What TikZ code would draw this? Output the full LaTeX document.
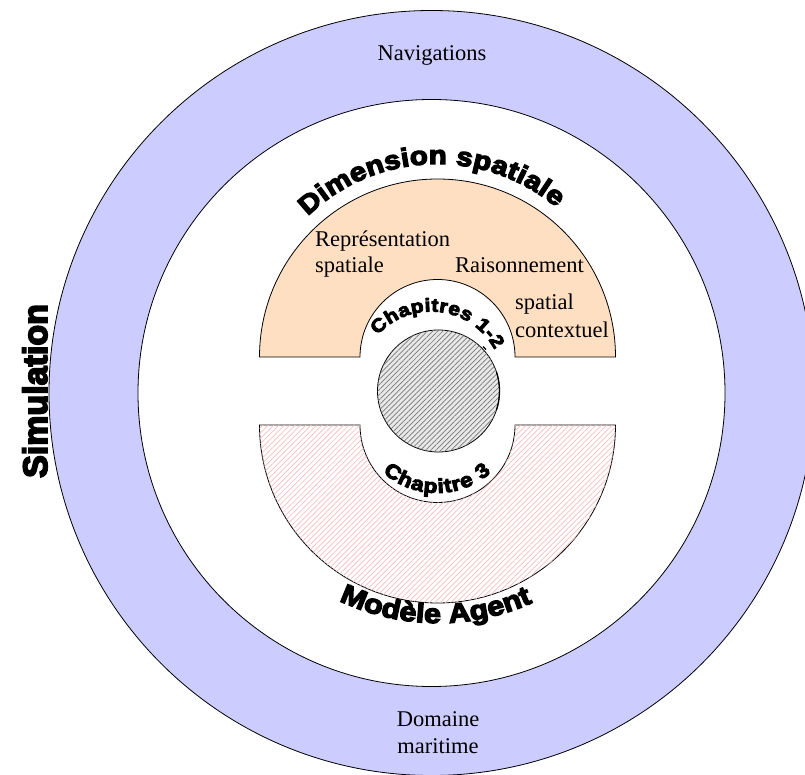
\documentclass[tikz,border=0pt]{standalone}
\usepackage{fontspec}
\setmainfont{Liberation Serif}
\newfontfamily\heavy[BoldFeatures={FakeBold=5,FakeStretch=1.13}]{Liberation Sans}
\newfontfamily\heavyn[BoldFeatures={FakeBold=5}]{Liberation Sans}
\usetikzlibrary{calc,patterns.meta,decorations.text}
\definecolor{ringblue}{RGB}{204,204,255}
\definecolor{peach}{RGB}{255,223,194}
\definecolor{pinkline}{RGB}{249,190,190}
\definecolor{grayback}{RGB}{232,232,232}
\definecolor{grayline}{RGB}{120,120,120}
\begin{document}
\begin{tikzpicture}[x=1pt,y=1pt,
  outline/.style={draw=black, line width=0.8pt},
  serif/.style={font=\fontsize{22.5}{24}\selectfont, inner sep=0pt},
  arctext/.style={decorate, decoration={text along path, text align={fit to path}, text={#1}}}]
\useasboundingbox (0,0) rectangle (805,774);
\clip (0,0) rectangle (805,774);
\coordinate (R) at (431.5,381);
\coordinate (O) at (437.5,417);
\coordinate (P) at (437.5,349);
\coordinate (G) at (438.5,383);
\coordinate (Dc) at (437,424);
\coordinate (C1) at (431,390.5);
\coordinate (C3) at (437,362);
\coordinate (Mc) at (438,381);
% blue ring
\path[outline, fill=ringblue, even odd rule] (R) circle[radius=382.5pt] (R) circle[radius=293.5pt];
% orange half annulus
\path[outline, fill=peach] ($(O)+(178,0)$) arc[start angle=0,end angle=180,radius=178pt]
  -- ($(O)+(-77.5,0)$) arc[start angle=180,end angle=0,radius=77.5pt] -- cycle;
% pink hatched half annulus
\path[outline, fill=white, postaction={pattern={Lines[angle=45,distance=3.8pt,line width=0.7pt]}, pattern color=pinkline}]
  ($(P)+(178,0)$) arc[start angle=0,end angle=-180,radius=178pt]
  -- ($(P)+(-77.5,0)$) arc[start angle=180,end angle=360,radius=77.5pt] -- cycle;
% gray hatched circle
\path[outline, fill=grayback, postaction={pattern={Lines[angle=45,distance=3.6pt,line width=0.7pt]}, pattern color=grayline}]
  (G) circle[radius=61pt];
\draw[line width=1.3pt] ($(G)+(18:61)$) arc[start angle=18,end angle=-18,radius=61pt];
\draw[line width=1.2pt] ($(G)+(45:63)$) arc[start angle=45,end angle=41,radius=63pt];
% texts
\node[serif, anchor=base] (nav) at (432,713) {Navigations};
\node[serif, anchor=base] (dom) at (438,48) {Domaine};
\node[serif, anchor=base] (mar) at (438,21) {maritime};
\node[serif, anchor=base west] (rep1) at (315,527) {Représentation};
\node[serif, anchor=base west] (rep2) at (315,501) {spatiale};
\node[serif, anchor=base west] (rai1) at (455,501) {Raisonnement};
\node[serif, anchor=base west] (rai2) at (515,464) {spatial};
\node[serif, anchor=base west] (rai3) at (515,436) {contextuel};
\node[rotate=90, anchor=base, inner sep=0pt, font=\heavyn\bfseries\fontsize{34}{36}\selectfont] (sim) at (47,383) {Simulation};
\path[arctext={|\heavy\bfseries\fontsize{26}{30}\selectfont|Dimension spatiale}]
  ($(Dc)+(134:186)$) arc[start angle=134,end angle=50,radius=186pt];
\path[arctext={|\heavy\bfseries\fontsize{18.5}{20}\selectfont|Chapitres 1-2}]
  ($(C1)+(138:72)$) arc[start angle=138,end angle=28,radius=72pt];
\path[arctext={|\heavy\bfseries\fontsize{20}{22}\selectfont|Chapitre 3}]
  ($(C3)+(228:81)$) arc[start angle=228,end angle=312,radius=81pt];
\path[arctext={|\heavy\bfseries\fontsize{27}{30}\selectfont|Modèle Agent}]
  ($(Mc)+(244.5:230)$) arc[start angle=244.5,end angle=293.5,radius=230pt];
\end{tikzpicture}
\end{document}
